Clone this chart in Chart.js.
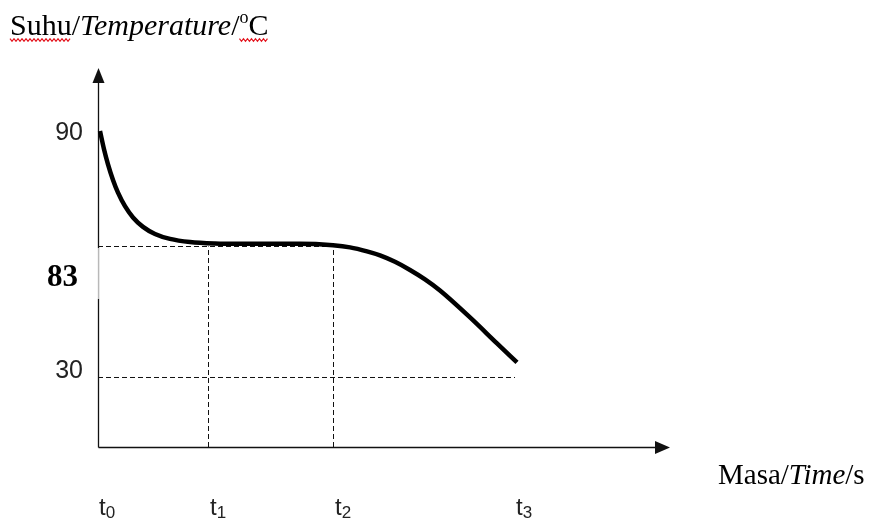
<!DOCTYPE html>
<html>
<head>
<meta charset="utf-8">
<script src="https://cdn.jsdelivr.net/npm/chart.js@4"></script>
<style>
	body { margin: 0; background: #ffffff; }
	canvas { display: block; }
</style>
</head>
<body>
<canvas id="cooling" width="871" height="521"></canvas>
<script>
// curve (time in arbitrary units, temperature in °C)
const curveTime = [0.2, 0.6, 1.0, 1.5, 2.0, 2.7, 3.5, 4.5, 5.7, 7.2, 9.2, 11.7, 14.2, 20.2, 23.5, 25.2, 26.9, 28.2, 29.7, 31.2, 32.7, 34.2, 37.2, 39.9, 41.9];
const curveTemp = [90, 88.89, 87.98, 87.03, 86.26, 85.44, 84.76, 84.19, 83.76, 83.46, 83.27, 83.18, 83.16, 83.16, 83.07, 82.64, 81.02, 79.4, 76.8, 73.5, 69.7, 65.2, 54.3, 43.8, 36.1];

// marked times and temperatures
const timeMarks = [0, 11.05, 23.55, 41.7];
const timeLabels = ["0", "1", "2", "3"];
const tempMarks = [90, 83, 30];
const tempLabels = ["90", "83", "30"];

const colInk = "#111111";
const colDash = "#111111";

//#region broken temperature axis (the sketch is not to scale above 83)
const yBreaks = [0, 30, 83, 90, 94];
const yFrac = [0, 0.1834, 0.529, 0.834, 1];

function mapThrough(v, from, to) {
	if (v <= from[0]) return to[0] + (v - from[0]) * (to[1] - to[0]) / (from[1] - from[0]);
	for (let i = 1; i < from.length; i++) {
		if (v <= from[i]) {
			const k = (v - from[i - 1]) / (from[i] - from[i - 1]);
			return to[i - 1] + k * (to[i] - to[i - 1]);
		}
	}
	const n = from.length - 1;
	return to[n] + (v - from[n]) * (to[n] - to[n - 1]) / (from[n] - from[n - 1]);
}

class BrokenScale extends Chart.LinearScale {
	getPixelForValue(value) {
		const f = mapThrough(value, yBreaks, yFrac);
		return this.bottom - f * (this.bottom - this.top);
	}
	getValueForPixel(pixel) {
		const f = (this.bottom - pixel) / (this.bottom - this.top);
		return mapThrough(f, yFrac, yBreaks);
	}
}
BrokenScale.id = "broken";
BrokenScale.defaults = Chart.LinearScale.defaults;
Chart.register(BrokenScale);
//#endregion

const curve = curveTime.map((t, i) => ({ x: t, y: curveTemp[i] }));
const dashed = {
	borderColor: colDash,
	borderWidth: 1,
	borderDash: [5, 3],
	pointRadius: 0,
	fill: false,
	clip: false,
};

function wavy(ctx, x0, x1, y) {
	ctx.save();
	ctx.strokeStyle = "#e3141e";
	ctx.lineWidth = 1.2;
	ctx.beginPath();
	for (let x = x0, up = true; x <= x1; x += 2, up = !up) {
		const yy = y + (up ? -1.3 : 1.3);
		if (x === x0) ctx.moveTo(x, yy); else ctx.lineTo(x, yy);
	}
	ctx.stroke();
	ctx.restore();
}

function drawRuns(ctx, x, y, runs) {
	for (const r of runs) {
		ctx.font = r.font;
		ctx.fillText(r.text, x, y + (r.dy || 0));
		x += ctx.measureText(r.text).width;
	}
	return x;
}

const sketchAxes = {
	id: "sketchAxes",
	beforeDatasetsDraw(chart) {
		const { ctx, chartArea: a, scales } = chart;
		const x0 = Math.round(a.left) + 0.5;
		const y0 = Math.round(scales.y.getPixelForValue(0)) + 0.5;
		ctx.save();
		ctx.strokeStyle = colInk;
		ctx.fillStyle = colInk;
		ctx.lineWidth = 1.3;
		ctx.beginPath();
		ctx.moveTo(x0, y0);
		ctx.lineTo(x0, a.top + 10);
		ctx.moveTo(x0, y0);
		ctx.lineTo(a.right - 10, y0);
		ctx.stroke();
		// arrow heads
		ctx.beginPath();
		ctx.moveTo(x0, a.top);
		ctx.lineTo(x0 - 6, a.top + 15);
		ctx.lineTo(x0 + 6, a.top + 15);
		ctx.closePath();
		ctx.fill();
		ctx.beginPath();
		ctx.moveTo(a.right, y0);
		ctx.lineTo(a.right - 15, y0 - 6.5);
		ctx.lineTo(a.right - 15, y0 + 6.5);
		ctx.closePath();
		ctx.fill();
		// text box of the bold 83 label lies over the axis
		const y83 = scales.y.getPixelForValue(tempMarks[1]);
		ctx.fillStyle = "rgba(255,255,255,0.7)";
		ctx.fillRect(40, y83 + 1.5, x0 + 1 - 40, 51);
		ctx.restore();
	},
	afterDatasetsDraw(chart) {
		const { ctx, chartArea: a, scales } = chart;
		const sx = scales.x, sy = scales.y;
		ctx.save();
		ctx.fillStyle = colInk;
		ctx.textBaseline = "alphabetic";

		// temperature marks
		ctx.textAlign = "right";
		ctx.font = "25px 'Liberation Sans', Arial, sans-serif";
		ctx.fillStyle = "#222222";
		ctx.fillText(tempLabels[0], a.left - 15, sy.getPixelForValue(tempMarks[0]) + 9);
		ctx.fillText(tempLabels[2], a.left - 15, sy.getPixelForValue(tempMarks[2]) + 1);
		ctx.fillStyle = "#000000";
		ctx.font = "bold 31px 'Liberation Serif', 'Times New Roman', serif";
		ctx.fillText(tempLabels[1], a.left - 20, sy.getPixelForValue(tempMarks[1]) + 39);

		// time marks
		ctx.textAlign = "left";
		ctx.fillStyle = "#222222";
		timeMarks.forEach((t, i) => {
			const x = Math.round(sx.getPixelForValue(t)) + 1;
			drawRuns(ctx, x, 515, [
				{ text: "t", font: "24px 'Liberation Sans', Arial, sans-serif" },
				{ text: timeLabels[i], font: "17px 'Liberation Sans', Arial, sans-serif", dy: 3 },
			]);
		});

		// axis titles
		ctx.fillStyle = "#000000";
		const serif = "'Liberation Serif', 'Times New Roman', serif";
		const x = 10;
		const xSuhu = drawRuns(ctx, x, 35, [{ text: "Suhu", font: "30px " + serif }]);
		const xDeg = drawRuns(ctx, xSuhu, 35, [
			{ text: "/", font: "30px " + serif },
			{ text: "Temperature", font: "italic 30px " + serif },
			{ text: "/", font: "30px " + serif },
		]);
		const xEnd = drawRuns(ctx, xDeg, 35, [
			{ text: "o", font: "18px " + serif, dy: -12 },
			{ text: "C", font: "30px " + serif },
		]);
		wavy(ctx, x, xSuhu, 40);
		wavy(ctx, xDeg, xEnd, 40);

		drawRuns(ctx, 718, 484, [
			{ text: "Masa/", font: "29px " + serif },
			{ text: "Time", font: "italic 29px " + serif },
			{ text: "/s", font: "29px " + serif },
		]);
		ctx.restore();
	},
};

new Chart(document.getElementById("cooling"), {
	type: "line",
	data: {
		datasets: [
			{
				data: curve,
				borderColor: "#000000",
				borderWidth: 4.5,
				pointRadius: 0,
				cubicInterpolationMode: "monotone",
				fill: false,
				clip: false,
			},
			{ ...dashed, data: [{ x: timeMarks[0], y: tempMarks[1] }, { x: timeMarks[2], y: tempMarks[1] }] },
			{ ...dashed, data: [{ x: timeMarks[0], y: tempMarks[2] }, { x: timeMarks[3], y: tempMarks[2] }] },
			{ ...dashed, data: [{ x: timeMarks[1], y: 0 }, { x: timeMarks[1], y: tempMarks[1] }] },
			{ ...dashed, data: [{ x: timeMarks[2], y: 0 }, { x: timeMarks[2], y: tempMarks[1] }] },
		],
	},
	options: {
		responsive: false,
		animation: false,
		events: [],
		layout: {
			padding: { left: 98, right: 201, top: 68, bottom: 74 },
		},
		plugins: {
			legend: { display: false },
			tooltip: { enabled: false },
		},
		scales: {
			x: {
				type: "linear",
				display: false,
				min: 0,
				max: 57.2,
			},
			y: {
				type: "broken",
				display: false,
				min: 0,
				max: 94,
			},
		},
	},
	plugins: [sketchAxes],
});
</script>
</body>
</html>
